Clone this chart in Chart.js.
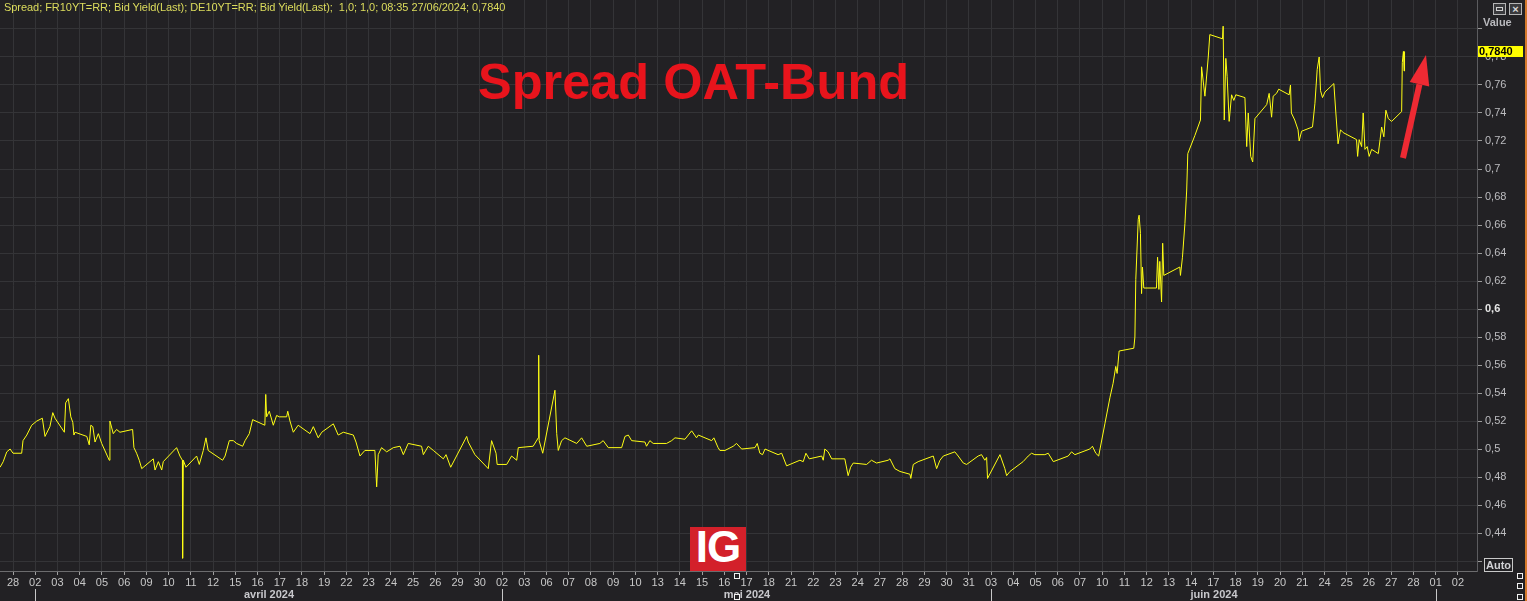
<!DOCTYPE html>
<html>
<head>
<meta charset="utf-8">
<script src="https://cdn.jsdelivr.net/npm/chart.js@4.4.1/dist/chart.umd.min.js"></script>
<style>
  html, body { margin: 0; padding: 0; background: #222124; }
  #wrap { position: relative; width: 1527px; height: 601px; overflow: hidden; background: #222124; }
  canvas { position: absolute; left: 0; top: 0; }
  .ov { position: absolute; white-space: pre; font-family: "Liberation Sans", Arial, sans-serif; }
  #hdr { left: 4px; top: 1px; font-size: 11px; line-height: 13px; color: #dcdc5c; letter-spacing: -0.05px; }
  #ttl { left: 478px; top: 57px; font-size: 50.5px; line-height: 50px; font-weight: bold; color: #e8141c; }
  #ig { left: 690px; top: 527px; width: 56px; height: 44px; background: #d3202a; overflow: hidden; }
  #ig span { position: absolute; left: 0; width: 56px; top: -2px; text-align: center; color: #fff; font-weight: bold; font-size: 44px; line-height: 44px; letter-spacing: -1px; }
  #val { left: 1483px; top: 16px; font-size: 11px; line-height: 13px; font-weight: bold; color: #b9b9bd; }
  #auto { left: 1484px; top: 558px; width: 27px; height: 12px; border: 1px solid #c9c9c9; font-size: 11px; line-height: 12px; font-weight: bold; color: #d2d2d6; text-align: center; }
  #ic1 { left: 1493px; top: 3px; width: 11px; height: 10px; border: 1px solid #b5b5b5; background: #3a3a3d; }
  #ic1 i { position: absolute; left: 2px; top: 3px; width: 5px; height: 2px; border: 1px solid #d0d0d0; }
  #ic2 { left: 1509px; top: 3px; width: 11px; height: 10px; border: 1px solid #b5b5b5; background: #3a3a3d; color: #d8d8d8; font-size: 11px; line-height: 10px; text-align: center; font-weight: bold; }
  .sq { position: absolute; width: 4px; height: 4px; border: 1px solid #f0f0f0; background: #222124; }
  #orange { position: absolute; left: 1525px; top: 0; width: 2px; height: 601px; background: #d4792b; }
</style>
</head>
<body>
<div id="wrap">
  <canvas id="c" width="1527" height="601"></canvas>
  <div class="ov" id="hdr">Spread; FR10YT=RR; Bid Yield(Last); DE10YT=RR; Bid Yield(Last);  1,0; 1,0; 08:35 27/06/2024; 0,7840</div>
  <div class="ov" id="ttl">Spread OAT-Bund</div>
  <div class="ov" id="ig"><span>IG</span></div>
  <div class="ov" id="val">Value</div>
  <div class="ov" id="auto">Auto</div>
  <div class="ov" id="ic1"><i></i></div>
  <div class="ov" id="ic2">×</div>
  <div class="sq" style="left:734px;top:573px"></div>
  <div class="sq" style="left:734px;top:594px"></div>
  <div class="sq" style="left:1517px;top:573px"></div>
  <div class="sq" style="left:1517px;top:583px"></div>
  <div class="sq" style="left:1517px;top:594px"></div>
  <div id="orange"></div>
</div>
<script>
// ---- Data ----
// trading-day labels on the x axis (one per session)
const dayLabels = ['28','02','03','04','05','06','09','10','11','12','15','16','17','18','19','22','23','24','25','26','29','30',
  '02','03','06','07','08','09','10','13','14','15','16','17','18','21','22','23','24','27','28','29','30','31',
  '03','04','05','06','07','10','11','12','13','14','17','18','19','20','21','24','25','26','27','28',
  '01','02'];
const monthNames = ['avril 2024','mai 2024','juin 2024'];
const monthFirstDay = [1, 22, 44, 64];
const yTicks = [0.42,0.44,0.46,0.48,0.50,0.52,0.54,0.56,0.58,0.60,0.62,0.64,0.66,0.68,0.70,0.72,0.74,0.76,0.78,0.80];

// time position in trading sessions (fractional session index)
const tradingDay = [
-0.58,-0.44,-0.28,-0.13,0.00,0.39,0.45,0.62,0.84,1.07,1.32,1.44,1.66,1.79,1.89,2.31,2.37,2.49,2.60,2.69,2.74,2.79,
3.32,3.43,3.50,3.59,3.69,3.84,3.99,4.33,4.36,4.51,4.66,4.81,5.38,5.44,5.56,5.68,5.79,6.31,6.39,6.54,6.69,6.76,
7.36,7.51,7.62,7.63,7.66,7.78,8.26,8.38,8.56,8.68,8.78,9.43,9.54,9.73,9.91,10.06,10.33,10.44,10.63,10.78,
11.33,11.37,11.41,11.53,11.71,11.86,11.98,12.31,12.36,12.46,12.61,12.83,13.36,13.51,13.73,13.89,14.41,14.63,14.86,
15.31,15.43,15.61,15.83,16.06,16.28,16.36,16.43,16.58,16.81,17.11,17.41,17.56,17.78,18.38,18.46,18.68,18.91,
19.36,19.48,19.69,20.41,20.48,20.78,21.38,21.53,21.73,21.78,22.21,22.43,22.66,22.73,23.40,23.63,23.65,23.67,23.83,
24.38,24.46,24.53,24.68,24.83,25.36,25.58,25.81,26.40,26.55,26.78,27.38,27.53,27.68,27.83,28.43,28.50,28.65,28.80,
29.40,29.63,29.78,30.23,30.53,30.75,30.83,31.43,31.53,31.72,31.80,32.03,32.40,32.55,32.78,33.38,33.48,33.60,33.72,33.83,
34.42,34.58,34.80,35.40,35.55,35.67,35.82,36.38,36.45,36.52,36.67,36.83,37.42,37.57,37.68,37.80,38.40,38.62,38.85,
39.37,39.45,39.67,39.90,40.35,40.39,40.50,40.72,41.40,41.55,41.70,41.85,42.37,42.52,42.75,42.90,43.42,43.57,43.72,43.80,43.84,
44.40,44.62,44.70,44.85,45.44,45.67,45.82,45.97,46.42,46.57,46.80,47.47,47.62,47.77,48.44,48.56,48.71,48.84,
49.12,49.35,49.49,49.61,49.67,49.76,50.42,50.47,50.51,50.62,50.66,50.72,50.77,50.81,50.87,51.44,51.49,51.55,51.59,51.67,51.72,51.77,
52.49,52.52,52.61,52.72,52.80,52.85,53.17,53.42,53.47,53.62,53.77,53.84,54.41,54.44,54.49,54.56,54.62,54.71,54.82,54.92,55.01,
55.42,55.50,55.57,55.68,55.77,55.87,56.40,56.51,56.62,56.69,56.84,56.94,57.41,57.47,57.51,57.66,57.81,57.86,57.97,
58.46,58.57,58.67,58.76,58.82,58.91,59.02,59.42,59.51,59.61,59.72,59.84,60.44,60.49,60.56,60.67,60.74,60.82,60.92,61.01,61.12,
61.42,61.50,61.57,61.67,61.76,61.87,62.02,62.47,62.50,62.55,62.58,62.60
];
// FR10Y - DE10Y spread, percentage points
const spread = [
0.487,0.491,0.498,0.500,0.497,0.497,0.506,0.510,0.517,0.520,0.522,0.509,0.516,0.526,0.522,0.512,0.533,0.536,0.523,0.519,0.510,0.512,
0.509,0.503,0.517,0.516,0.505,0.511,0.504,0.492,0.520,0.511,0.514,0.512,0.514,0.501,0.497,0.492,0.486,0.493,0.485,0.491,0.485,0.491,
0.501,0.495,0.492,0.422,0.492,0.487,0.495,0.489,0.499,0.508,0.499,0.492,0.495,0.506,0.506,0.504,0.502,0.506,0.511,0.521,
0.517,0.539,0.523,0.527,0.517,0.524,0.523,0.523,0.527,0.520,0.512,0.517,0.511,0.516,0.508,0.512,0.518,0.510,0.512,
0.510,0.505,0.495,0.499,0.499,0.499,0.473,0.496,0.501,0.498,0.501,0.502,0.496,0.504,0.502,0.496,0.502,0.499,
0.493,0.496,0.487,0.509,0.505,0.496,0.486,0.506,0.497,0.489,0.489,0.495,0.492,0.501,0.502,0.508,0.567,0.506,0.497,
0.542,0.511,0.499,0.506,0.508,0.504,0.508,0.502,0.504,0.506,0.501,0.501,0.509,0.510,0.506,0.505,0.502,0.506,0.504,
0.504,0.506,0.508,0.507,0.513,0.508,0.510,0.506,0.508,0.501,0.499,0.499,0.502,0.504,0.500,0.501,0.504,0.497,0.496,0.500,
0.496,0.497,0.488,0.492,0.491,0.497,0.493,0.495,0.492,0.500,0.498,0.493,0.493,0.481,0.487,0.490,0.489,0.492,0.490,
0.492,0.493,0.486,0.484,0.482,0.479,0.489,0.491,0.495,0.486,0.492,0.495,0.498,0.495,0.490,0.489,0.495,0.496,0.492,0.494,0.479,
0.496,0.486,0.481,0.484,0.491,0.495,0.497,0.496,0.496,0.497,0.491,0.495,0.498,0.496,0.500,0.502,0.497,0.495,
0.518,0.537,0.547,0.559,0.554,0.570,0.572,0.580,0.621,0.664,0.667,0.654,0.611,0.630,0.615,0.615,0.637,0.614,0.634,0.605,0.647,0.624,
0.630,0.624,0.637,0.661,0.685,0.711,0.724,0.735,0.773,0.752,0.780,0.796,0.793,0.802,0.735,0.779,0.766,0.734,0.753,0.749,0.753,
0.751,0.716,0.740,0.709,0.705,0.736,0.746,0.754,0.737,0.752,0.754,0.757,0.753,0.760,0.740,0.735,0.728,0.720,0.727,
0.730,0.747,0.771,0.780,0.756,0.751,0.755,0.761,0.740,0.718,0.728,0.726,0.721,0.709,0.721,0.716,0.740,0.714,0.716,0.709,0.714,
0.711,0.721,0.730,0.723,0.742,0.736,0.734,0.741,0.776,0.784,0.770,0.784
];

const FONT = '"Liberation Sans", Arial, sans-serif';
const isClose = (a, b) => Math.abs(a - b) < 1e-6;
const isMid = ctx => !!(ctx && ctx.tick && isClose(ctx.tick.value, 0.6));
const fmt = v => String(parseFloat(v.toFixed(2))).replace('.', ',');

const overlay = {
  id: 'overlay',
  afterDraw(chart) {
    const c = chart.ctx, xs = chart.scales.x, ys = chart.scales.y, ca = chart.chartArea;
    c.save();
    // month dividers and month names
    const px = monthFirstDay.map(i => Math.round(xs.getPixelForValue(i)) + 0.5);
    c.strokeStyle = '#c8c8c8'; c.lineWidth = 1;
    px.forEach(p => { c.beginPath(); c.moveTo(p, ca.bottom + 18); c.lineTo(p, ca.bottom + 30); c.stroke(); });
    c.font = 'bold 11px ' + FONT; c.fillStyle = '#c8c8cc'; c.textAlign = 'center'; c.textBaseline = 'middle';
    monthNames.forEach((m, k) => c.fillText(m, (px[k] + px[k + 1]) / 2, ca.bottom + 24));
    // last value marker on the value axis
    const last = spread[spread.length - 1];
    const yy = ys.getPixelForValue(last);
    c.fillStyle = '#ffff00';
    c.fillRect(ys.left + 1, Math.round(yy) - 5, 45, 11);
    c.fillStyle = '#000'; c.textAlign = 'left'; c.font = 'bold 11px ' + FONT;
    c.fillText(last.toFixed(4).replace('.', ','), ys.left + 2, Math.round(yy) + 0.5);
    // red arrow annotation
    const x0 = 1403, y0 = 158, x1 = 1426, y1 = 55;
    const ang = Math.atan2(y1 - y0, x1 - x0);
    const hl = 30, hw = 10;
    const bx = x1 - hl * Math.cos(ang), by = y1 - hl * Math.sin(ang);
    c.strokeStyle = '#ee2a33'; c.lineWidth = 6; c.lineCap = 'butt';
    c.beginPath(); c.moveTo(x0, y0); c.lineTo(bx, by); c.stroke();
    c.fillStyle = '#ee2a33';
    c.beginPath();
    c.moveTo(x1, y1);
    c.lineTo(bx + hw * Math.sin(ang), by - hw * Math.cos(ang));
    c.lineTo(bx - hw * Math.sin(ang), by + hw * Math.cos(ang));
    c.closePath(); c.fill();
    c.restore();
  }
};

new Chart(document.getElementById('c'), {
  type: 'line',
  data: {
    datasets: [{
      label: 'Spread',
      data: tradingDay.map((d, i) => ({ x: d, y: spread[i] })),
      borderColor: '#ffff14',
      borderWidth: 1,
      pointRadius: 0,
      tension: 0,
      fill: false
    }]
  },
  options: {
    responsive: false,
    animation: false,
    layout: { padding: 0 },
    plugins: { legend: { display: false }, tooltip: { enabled: false }, title: { display: false } },
    scales: {
      x: {
        type: 'linear', position: 'bottom', min: -0.585, max: 65.86,
        afterBuildTicks: s => { s.ticks = dayLabels.map((_, i) => ({ value: i })); },
        afterFit: s => { s.height = 30; s.paddingLeft = 0; s.paddingRight = 0; },
        ticks: {
          autoSkip: false, maxRotation: 0, minRotation: 0, padding: 1,
          color: '#c8c8c8', font: { family: FONT, size: 11 },
          callback: v => dayLabels[Math.round(v)] ?? ''
        },
        grid: { color: '#343437', lineWidth: 1, tickLength: 4, tickColor: '#a0a0a0' },
        border: { color: '#6c6c6e' }
      },
      y: {
        type: 'linear', position: 'right', min: 0.4129, max: 0.8207,
        afterBuildTicks: s => { s.ticks = yTicks.map(v => ({ value: v })); },
        afterFit: s => { s.width = 50; s.paddingTop = 0; s.paddingBottom = 0; },
        ticks: {
          padding: 3,
          color: ctx => isMid(ctx) ? '#e6e6e6' : '#bdbdc0',
          font: ctx => ({ family: FONT, size: 11, weight: isMid(ctx) ? 'bold' : 'normal' }),
          callback: v => (isClose(v, 0.42) || isClose(v, 0.80)) ? '' : fmt(v)
        },
        grid: { color: '#343437', lineWidth: 1, tickLength: 5, tickColor: '#9a9a9a' },
        border: { color: '#5c5c5f' }
      }
    }
  },
  plugins: [overlay]
});
</script>
</body>
</html>
